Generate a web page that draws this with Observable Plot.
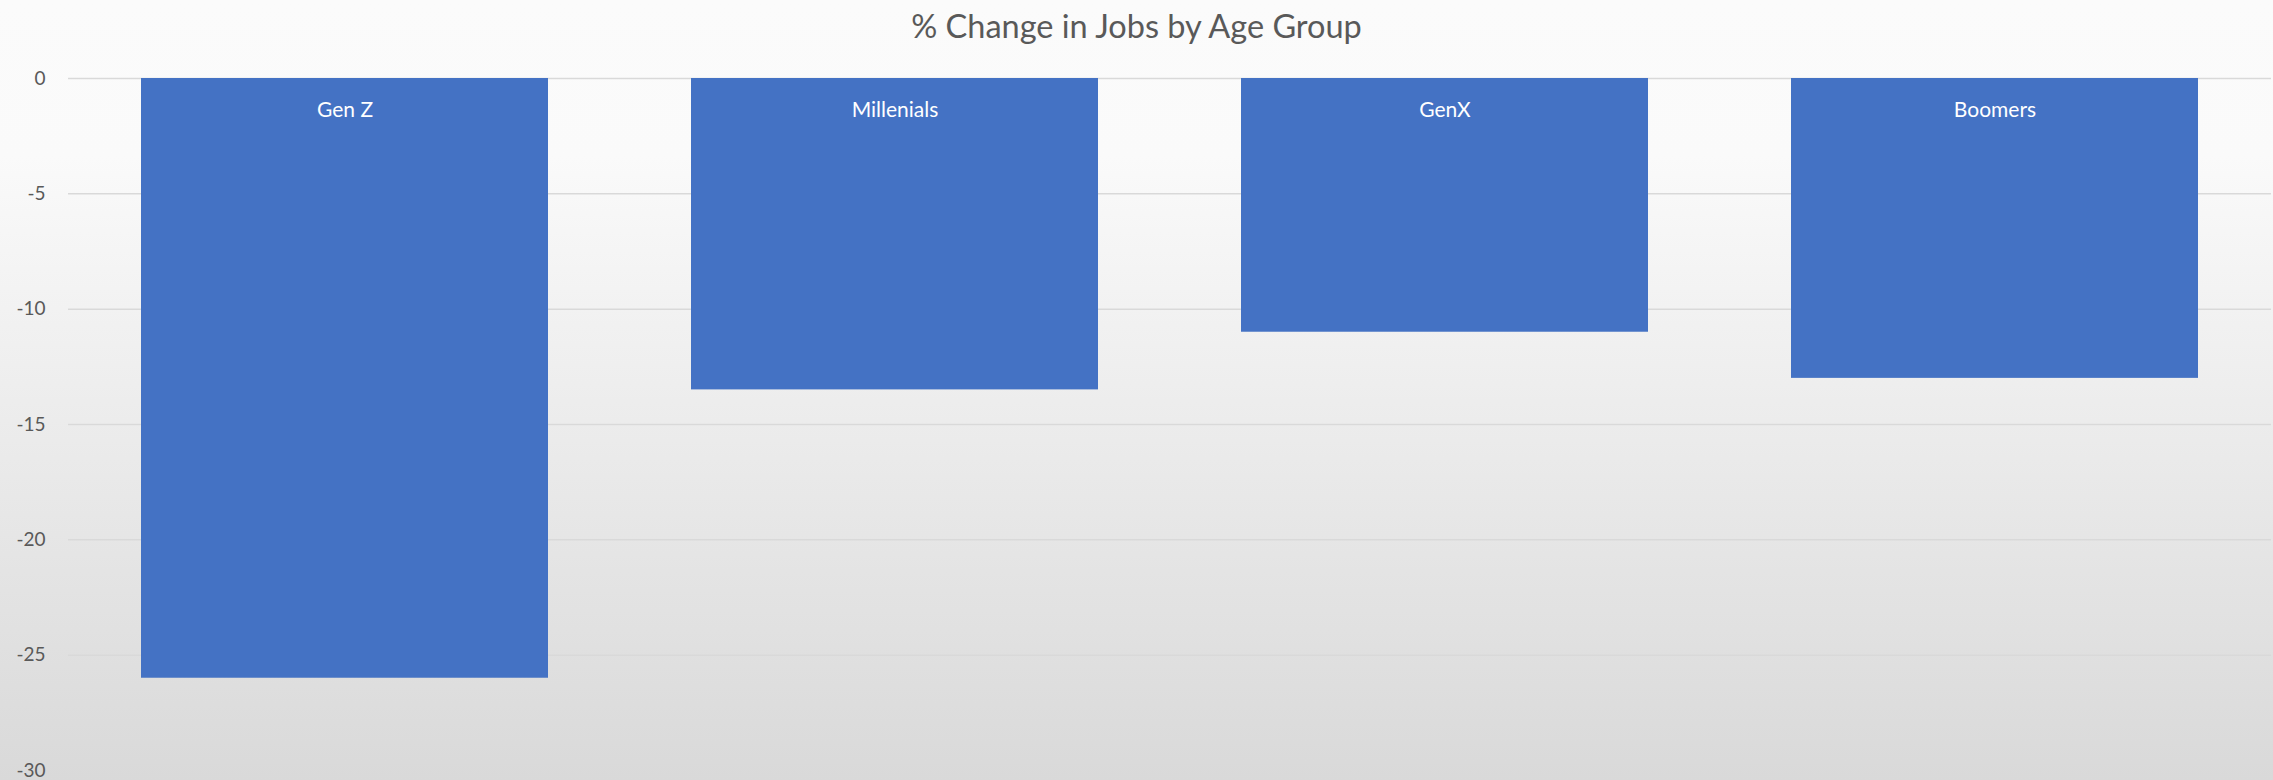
<!DOCTYPE html>
<html>
<head>
<meta charset="utf-8">
<script src="https://cdn.jsdelivr.net/npm/d3@7"></script>
<script src="https://cdn.jsdelivr.net/npm/@observablehq/plot@0.6"></script>
<style>
  html, body { margin: 0; padding: 0; }
  #wrap {
    width: 2273px; height: 780px; overflow: hidden;
    background: linear-gradient(to bottom, #fbfbfb 0%, #fafafa 20%, #d9d9d9 100%);
    font-family: Lato, "Open Sans", sans-serif;
  }
  #title {
    height: 50px; line-height: 52px; text-align: center;
    font-size: 32.5px; color: #595959;
  }
</style>
</head>
<body>
<div id="wrap">
  <div id="title">% Change in Jobs by Age Group</div>
  <div id="chart"></div>
</div>
<script>
const categories = ["Gen Z", "Millenials", "GenX", "Boomers"];
const values = [-26, -13.5, -11, -13];
const yTicks = [0, -5, -10, -15, -20, -25, -30];
const gridTicks = [0, -5, -10, -15, -20, -25];

const data = categories.map((c, i) => ({cat: c, val: values[i]}));

const chart = Plot.plot({
  width: 2273,
  height: 730,
  marginLeft: 68,
  marginRight: 2,
  marginTop: 28,
  marginBottom: 10,
  style: {background: "transparent", fontFamily: "Lato, 'Open Sans', sans-serif", color: "#595959", overflow: "visible"},
  x: {domain: categories, paddingInner: 0.26, paddingOuter: 0.13, axis: null},
  y: {domain: [-30, 0], axis: null},
  marks: [
    Plot.ruleY(gridTicks, {stroke: "#d9d9d9", strokeWidth: 1.5}),
    Plot.barY(data, {x: "cat", y: "val", fill: "#4472c4"}),
    Plot.text(data, {x: "cat", y: 0, text: "cat", dy: 32, fill: "white", fontSize: 21}),
    Plot.axisY({ticks: yTicks, tickSize: 0, tickPadding: 23, label: null, fontSize: 19, fill: "#595959", tickFormat: d => String(d)})
  ]
});
document.getElementById("chart").appendChild(chart);
</script>
</body>
</html>
